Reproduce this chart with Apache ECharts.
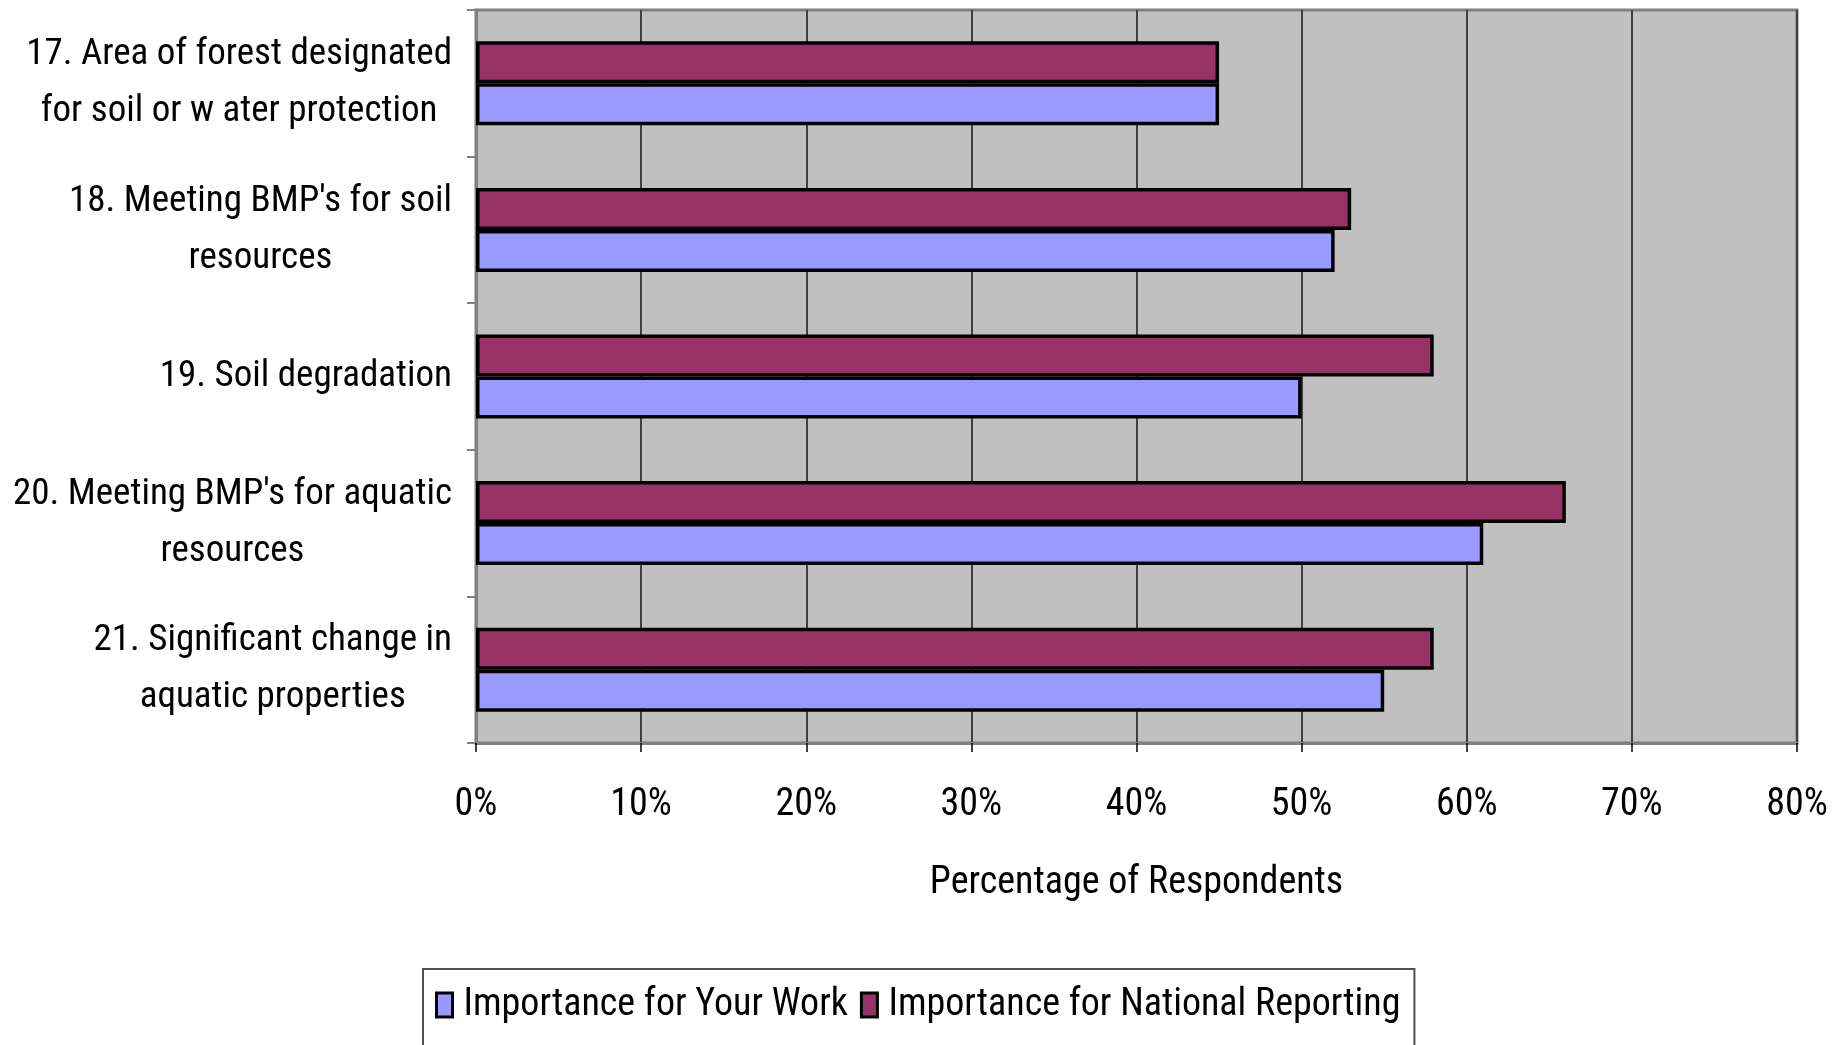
<!DOCTYPE html>
<html>
<head>
<meta charset="utf-8">
<title>Importance of soil and water indicators</title>
<script src="https://cdn.jsdelivr.net/npm/echarts@6/dist/echarts.min.js"></script>
<style>
  html, body { margin: 0; padding: 0; background: #ffffff; }
  #chart { width: 1833px; height: 1045px; }
</style>
</head>
<body>
<div id="chart"></div>
<script>
// Indicator names (two lines each where the label wraps)
const categories = [
  '17. Area of forest designated\nfor soil or w ater protection',
  "18. Meeting BMP's for soil\nresources",
  '19. Soil degradation',
  "20. Meeting BMP's for aquatic\nresources",
  '21. Significant change in\naquatic properties'
];

// Share of respondents (%) rating each indicator as important
const yourWork = [45, 52, 50, 61, 55];
const nationalReporting = [45, 53, 58, 66, 58];

const seriesNames = ['Importance for Your Work', 'Importance for National Reporting'];
const xTicks = { min: 0, max: 80, interval: 10 };

const FONT = "'Roboto Condensed', 'Liberation Sans Narrow', 'DejaVu Sans Condensed', sans-serif";
const FS = 38;       // axis ticks, axis name, legend
const FS_CAT = 37;   // category labels

const chart = echarts.init(document.getElementById('chart'), null, { renderer: 'canvas' });

chart.setOption({
  backgroundColor: '#ffffff',
  animation: false,
  textStyle: { fontFamily: FONT, color: '#000000' },
  grid: {
    left: 476, right: 36, top: 10, bottom: 302,
    show: true,
    backgroundColor: '#C0C0C0',
    borderColor: '#808080',
    borderWidth: 3,
    containLabel: false,
    outerBoundsMode: 'none'
  },
  legend: {
    data: seriesNames,
    left: 423,
    top: 969,
    orient: 'horizontal',
    icon: 'rect',
    itemWidth: 16,
    itemHeight: 24,
    itemGap: 12,
    padding: [17, 14, 40, 12],
    backgroundColor: '#ffffff',
    borderColor: '#505050',
    borderWidth: 2,
    textStyle: { fontFamily: FONT, fontSize: FS, color: '#000', padding: [0, 0, 0, 6] },
    itemStyle: { borderColor: '#000', borderWidth: 3 }
  },
  xAxis: {
    type: 'value',
    min: xTicks.min,
    max: xTicks.max,
    interval: xTicks.interval,
    name: 'Percentage of Respondents',
    nameLocation: 'middle',
    nameGap: 121,
    nameTextStyle: { fontFamily: FONT, fontSize: FS, color: '#000' },
    axisLine: { show: true, lineStyle: { color: '#808080', width: 3 } },
    axisTick: { show: true, length: 9, lineStyle: { color: '#000', width: 1.5 } },
    axisLabel: {
      fontFamily: FONT, fontSize: FS, color: '#000', margin: 43,
      formatter: v => v + '%'
    },
    splitLine: { show: true, lineStyle: { color: '#404040', width: 2 } }
  },
  yAxis: {
    type: 'category',
    data: categories,
    inverse: true,
    axisLine: { show: true, lineStyle: { color: '#808080', width: 3 } },
    axisTick: { show: true, length: 9, lineStyle: { color: '#808080', width: 2 } },
    axisLabel: {
      margin: 24,
      align: 'right',
      formatter: v => v.split('\n').map(s => '{c|' + s + '}').join('\n'),
      rich: {
        c: { align: 'center', fontFamily: FONT, fontSize: FS_CAT, lineHeight: 57, color: '#000' }
      }
    },
    splitLine: { show: false }
  },
  // National Reporting listed first so it sits above Your Work in each band
  series: [
    {
      name: seriesNames[1],
      type: 'bar',
      data: nationalReporting,
      barWidth: 42,
      barGap: '0%',
      itemStyle: { color: '#993366', borderColor: '#000000', borderWidth: 3.5 }
    },
    {
      name: seriesNames[0],
      type: 'bar',
      data: yourWork,
      barWidth: 42,
      barGap: '0%',
      itemStyle: { color: '#9999FF', borderColor: '#000000', borderWidth: 3.5 }
    }
  ]
});
</script>
</body>
</html>
